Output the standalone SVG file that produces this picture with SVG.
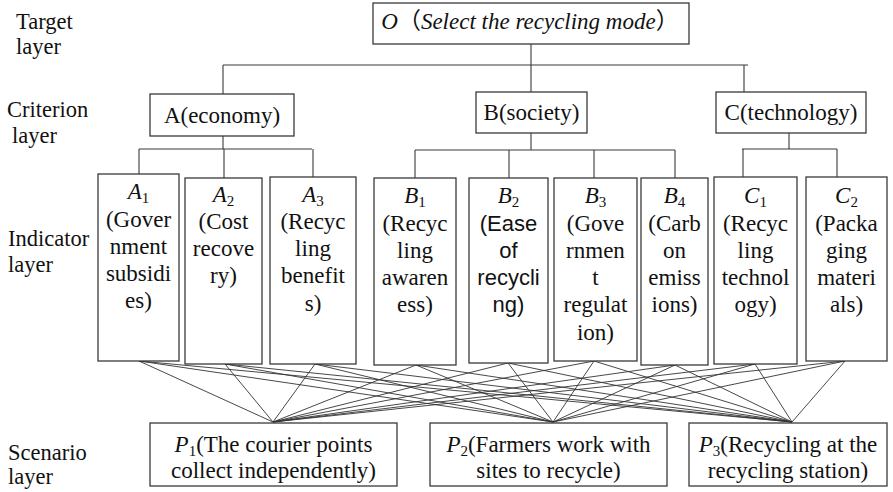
<svg xmlns="http://www.w3.org/2000/svg" width="893" height="492" viewBox="0 0 893 492">
<style>
.t{font-family:"Liberation Serif","Times New Roman",serif;font-size:23px;fill:#111}
.lab{font-family:"Liberation Serif","Times New Roman",serif;font-size:22.5px;fill:#111}
.cjk{font-family:"Noto Sans CJK SC",sans-serif;font-style:normal}
.m{text-anchor:middle}
.it{font-style:italic}
.sub{font-size:15px;font-style:normal}
.sans{font-family:"Liberation Sans",Arial,sans-serif;font-size:22px}
.box{fill:#fff;stroke:#3a3a3a;stroke-width:1.3}
.ln{stroke:#3a3a3a;stroke-width:1.1;fill:none}
.fan{stroke:#333;stroke-width:0.9;fill:none}
</style>
<rect width="893" height="492" fill="#fff"/>
<g id="layer-labels" class="lab">
<text x="16" y="29">Target</text><text x="16" y="54">layer</text>
<text x="7" y="117">Criterion</text><text x="12" y="143">layer</text>
<text x="8" y="246">Indicator</text><text x="8" y="272">layer</text>
<text x="8" y="460">Scenario</text><text x="8" y="484">layer</text>
</g>
<g id="connectors">
<path class="ln" d="M531,44V65M223,65H748M223,65V94M531,65V92M744,65V92"/>
<path class="ln" d="M223,136V149M139,149H312M139,149V174M224,149V178M313,149V177"/>
<path class="ln" d="M531,133V150M415,150H675M415,150V178M509,150V178M594,150V178M675,150V178"/>
<path class="ln" d="M789,133V149M742,149H837M743,149V177M837,149V177"/>
<g class="fan">
<path d="M139,361L273,422M139,361L553,422M139,361L792,422"/>
<path d="M225,364L273,422M225,364L553,422M225,364L792,422"/>
<path d="M315,364L273,422M315,364L553,422M315,364L792,422"/>
<path d="M416,365L273,422M416,365L553,422M416,365L792,422"/>
<path d="M508,363L273,422M508,363L553,422M508,363L792,422"/>
<path d="M594,361L273,422M594,361L553,422M594,361L792,422"/>
<path d="M675,365L273,422M675,365L553,422M675,365L792,422"/>
<path d="M755,364L273,422M755,364L553,422M755,364L792,422"/>
<path d="M845,361L273,422M845,361L553,422M845,361L792,422"/>
</g>
</g>
<g id="O">
<rect class="box" x="373" y="3" width="316" height="41"/>
<text class="t m it" x="530" y="29">O<tspan class="cjk">（</tspan>Select the recycling mode<tspan class="cjk">）</tspan></text>
</g>
<g id="A">
<rect class="box" x="150" y="94" width="144" height="42"/>
<text class="t m" x="222" y="123">A(economy)</text>
</g>
<g id="B">
<rect class="box" x="476" y="92" width="111" height="41"/>
<text class="t m" x="531.5" y="120">B(society)</text>
</g>
<g id="C">
<rect class="box" x="716" y="92" width="150" height="41"/>
<text class="t m" x="791" y="120">C(technology)</text>
</g>
<g id="A1">
<rect class="box" x="98" y="174" width="81" height="187"/>
<text class="t m"><tspan x="138.5" y="199"><tspan class="it">A</tspan><tspan class="sub" dy="4">1</tspan></tspan><tspan x="138.5" y="227">(Gover</tspan><tspan x="138.5" y="254">nment</tspan><tspan x="138.5" y="281">subsidi</tspan><tspan x="138.5" y="308">es)</tspan></text>
</g>
<g id="A2">
<rect class="box" x="185" y="178" width="77" height="186"/>
<text class="t m"><tspan x="223.5" y="202"><tspan class="it">A</tspan><tspan class="sub" dy="4">2</tspan></tspan><tspan x="223.5" y="229">(Cost</tspan><tspan x="223.5" y="256">recove</tspan><tspan x="223.5" y="283">ry)</tspan></text>
</g>
<g id="A3">
<rect class="box" x="270" y="177" width="86" height="187"/>
<text class="t m"><tspan x="313" y="202"><tspan class="it">A</tspan><tspan class="sub" dy="4">3</tspan></tspan><tspan x="313" y="229">(Recyc</tspan><tspan x="313" y="256">ling</tspan><tspan x="313" y="283">benefit</tspan><tspan x="313" y="311">s)</tspan></text>
</g>
<g id="B1">
<rect class="box" x="374" y="178" width="82" height="187"/>
<text class="t m"><tspan x="415" y="203"><tspan class="it">B</tspan><tspan class="sub" dy="4">1</tspan></tspan><tspan x="415" y="231">(Recyc</tspan><tspan x="415" y="258">ling</tspan><tspan x="415" y="285">awaren</tspan><tspan x="415" y="312">ess)</tspan></text>
</g>
<g id="B2">
<rect class="box" x="469" y="178" width="79" height="185"/>
<text class="t m"><tspan x="508.5" y="203"><tspan class="it">B</tspan><tspan class="sub" dy="4">2</tspan></tspan></text>
<text class="m sans" fill="#111"><tspan x="508.5" y="231">(Ease</tspan><tspan x="508.5" y="258">of</tspan><tspan x="508.5" y="285">recycli</tspan><tspan x="508.5" y="312">ng)</tspan></text>
</g>
<g id="B3">
<rect class="box" x="554" y="178" width="83" height="183"/>
<text class="t m"><tspan x="595.5" y="203"><tspan class="it">B</tspan><tspan class="sub" dy="4">3</tspan></tspan><tspan x="595.5" y="231">(Gove</tspan><tspan x="595.5" y="258">rnmen</tspan><tspan x="595.5" y="285">t</tspan><tspan x="595.5" y="312">regulat</tspan><tspan x="595.5" y="340">ion)</tspan></text>
</g>
<g id="B4">
<rect class="box" x="641" y="178" width="67" height="187"/>
<text class="t m"><tspan x="674.5" y="203"><tspan class="it">B</tspan><tspan class="sub" dy="4">4</tspan></tspan><tspan x="674.5" y="231">(Carb</tspan><tspan x="674.5" y="258">on</tspan><tspan x="674.5" y="285">emiss</tspan><tspan x="674.5" y="312">ions)</tspan></text>
</g>
<g id="C1">
<rect class="box" x="714" y="177" width="83" height="187"/>
<text class="t m"><tspan x="755.5" y="203"><tspan class="it">C</tspan><tspan class="sub" dy="4">1</tspan></tspan><tspan x="755.5" y="231">(Recyc</tspan><tspan x="755.5" y="258">ling</tspan><tspan x="755.5" y="285">technol</tspan><tspan x="755.5" y="312">ogy)</tspan></text>
</g>
<g id="C2">
<rect class="box" x="806" y="177" width="81" height="184"/>
<text class="t m"><tspan x="846.5" y="203"><tspan class="it">C</tspan><tspan class="sub" dy="4">2</tspan></tspan><tspan x="846.5" y="231">(Packa</tspan><tspan x="846.5" y="258">ging</tspan><tspan x="846.5" y="285">materi</tspan><tspan x="846.5" y="312">als)</tspan></text>
</g>
<g id="P1">
<rect class="box" x="150" y="423" width="247" height="63"/>
<text class="t m"><tspan x="273.5" y="452"><tspan class="it">P</tspan><tspan class="sub" dy="4">1</tspan><tspan dy="-4">(The courier points</tspan></tspan><tspan x="273.5" y="478">collect independently)</tspan></text>
</g>
<g id="P2">
<rect class="box" x="430" y="423" width="237" height="63"/>
<text class="t m"><tspan x="548.5" y="452"><tspan class="it">P</tspan><tspan class="sub" dy="4">2</tspan><tspan dy="-4">(Farmers work with</tspan></tspan><tspan x="548.5" y="478">sites to recycle)</tspan></text>
</g>
<g id="P3">
<rect class="box" x="689" y="423" width="198" height="63"/>
<text class="t m"><tspan x="788" y="452"><tspan class="it">P</tspan><tspan class="sub" dy="4">3</tspan><tspan dy="-4">(Recycling at the</tspan></tspan><tspan x="788" y="478">recycling station)</tspan></text>
</g>
</svg>
